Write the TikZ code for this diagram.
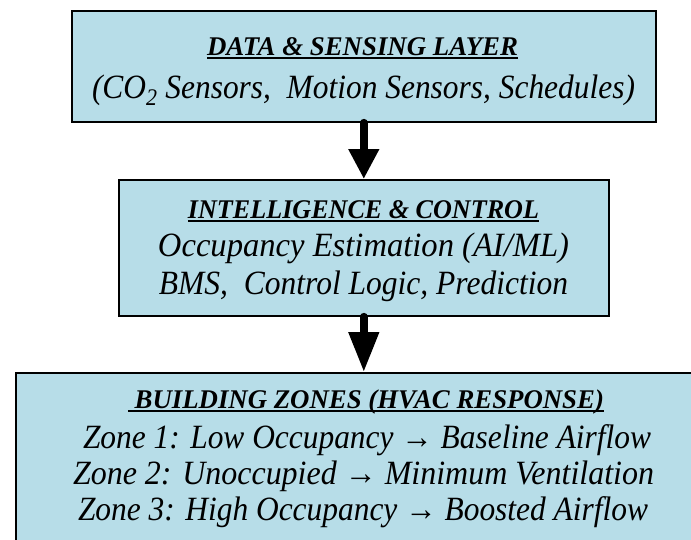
\documentclass[tikz,border=0pt]{standalone}
\usepackage{fontspec}
\setmainfont{Liberation Serif}
\usetikzlibrary{arrows.meta}
\definecolor{boxfill}{HTML}{B7DDE8}
\newcommand\ulttl[1]{\setbox0\hbox{#1}\rlap{\usebox0}\rule[-3pt]{\wd0}{1.8pt}}
\newcommand\fitline[2]{\resizebox{#1pt}{\height}{#2}}
\newcommand\rarr{{\upshape\ →\ }}
\begin{document}
\begin{tikzpicture}[x=1pt,y=-1pt,
  layer/.style={draw=black, line width=1.6pt, fill=boxfill, inner sep=0pt, anchor=north west},
  ttl/.style={anchor=base, inner sep=0pt, font=\fontsize{27}{32}\selectfont\bfseries\itshape},
  body/.style={anchor=base, inner sep=0pt, font=\fontsize{34}{40}\selectfont\itshape},
  flowA/.style={line width=7.5pt, line cap=round, -{Triangle[length=30pt,width=29pt]}},
  flowB/.style={line width=7.5pt, line cap=round, -{Triangle[length=40pt,width=29pt]}}]
\useasboundingbox (0,0) rectangle (691,539);
\clip (0,0) rectangle (691,539);
\fill[white] (0,0) rectangle (691,539);
% boxes
\node[layer, minimum width=584pt, minimum height=111pt] (top) at (71,10) {};
\node[layer, minimum width=490pt, minimum height=136pt] (mid) at (118,179) {};
\node[layer, minimum width=696pt, minimum height=190pt] (bot) at (15,372) {};
% connectors
\draw[flowA] (top.south) -- (mid.north);
\draw[flowB] (mid.south) -- (bot.north);
% top texts
\node[ttl] (t1) at (362.5,55.5) {\fitline{311}{\ulttl{DATA \& SENSING LAYER}}};
\node[body] (t2) at (363.5,98) {\fitline{543}{(CO\textsubscript{2} Sensors,\ \ Motion Sensors, Schedules)}};
% middle texts
\node[ttl] (m1) at (363.5,218.5) {\fitline{351}{\ulttl{INTELLIGENCE \& CONTROL}}};
\node[body] (m2) at (363.5,256) {\fitline{411}{Occupancy Estimation (AI/ML)}};
\node[body] (m3) at (363.5,294) {\fitline{409}{BMS,\ \ Control Logic, Prediction}};
% bottom texts
\node[ttl] (b1) at (366,408.5) {\fitline{476}{\ulttl{\ BUILDING ZONES (HVAC RESPONSE)}}};
\node[body] (b2) at (367,448) {\fitline{568}{Zone 1: Low Occupancy\rarr Baseline Airflow}};
\node[body] (b3) at (363.5,484) {\fitline{581}{Zone 2: Unoccupied\rarr Minimum Ventilation}};
\node[body] (b4) at (363,520) {\fitline{570}{Zone 3: High Occupancy\rarr Boosted Airflow}};
\end{tikzpicture}
\end{document}
